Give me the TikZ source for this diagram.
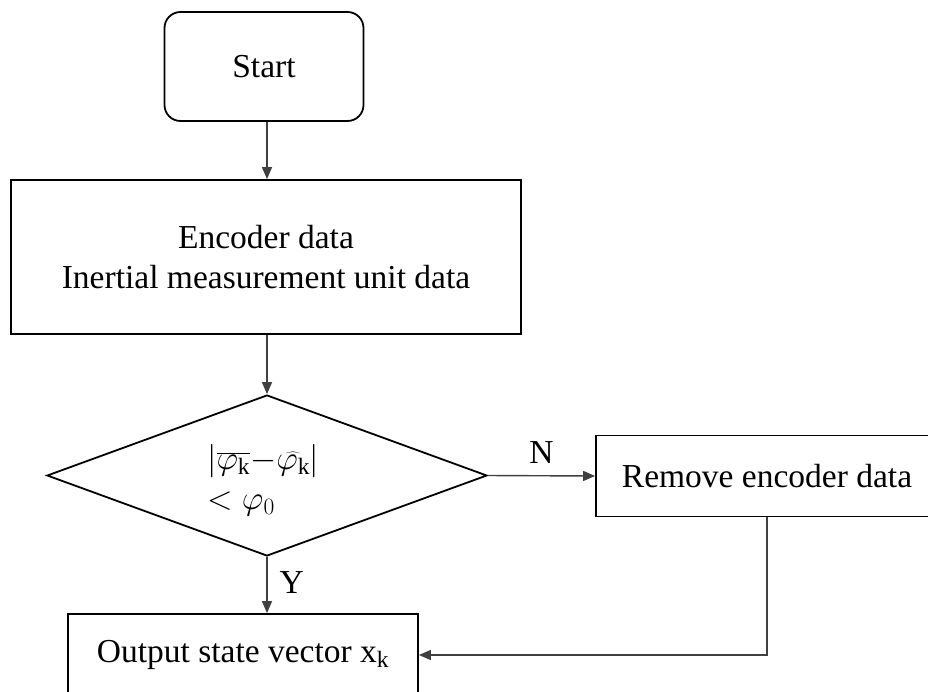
\documentclass[tikz,border=0pt]{standalone}
\usepackage{fix-cm}
\usepackage{fontspec}
\setmainfont{Liberation Serif}
\usetikzlibrary{shapes.geometric,arrows.meta}
\tikzset{
  boxline/.style={draw=black, line width=1.8pt},
  procbox/.style={boxline, rectangle, inner sep=0pt, align=center, font=\fontsize{33.5}{40}\selectfont},
  startbox/.style={procbox, rounded corners=16pt},
  decbox/.style={boxline, diamond, inner sep=0pt},
  conn/.style={draw=black!75, line width=1.4pt, -{Triangle[length=12pt,width=10pt]}},
  lbl/.style={font=\fontsize{33.5}{40}\selectfont, inner sep=0pt}
}
\begin{document}
\begin{tikzpicture}[x=1pt,y=-1pt]
\useasboundingbox (0,0) rectangle (928,691);
\clip (0,0) rectangle (928,691);
\node[startbox, minimum width=199pt, minimum height=109pt] (start) at (264,66.5) {Start};
\node[procbox, minimum width=510pt, minimum height=154pt] (enc) at (266,257) {Encoder data\\Inertial measurement unit data};
\node[decbox, minimum width=440pt, minimum height=161pt] (dec) at (267,475.5) {};
\node[lbl, align=left, anchor=west] (cond) at (207,480) {$|\overline{\varphi_{\mathrm{k}}}{-}\widehat{\varphi_{\mathrm{k}}}|$\\[0pt]$<\varphi_0$};
\node[procbox, minimum width=342pt, minimum height=81pt] (rem) at (767,476) {Remove encoder data};
\node[procbox, minimum width=350pt, minimum height=82pt] (out) at (243,655) {Output state vector x$_{\mathrm{k}}$};
\coordinate (corner) at (767,655);
\draw[conn] (start.south -| enc.north) ++(1,0) coordinate (s1) -- (s1 |- enc.north);
\draw[conn] (enc.south -| dec.north) ++(0,0) coordinate (e1) -- (dec.north);
\draw[conn] (dec.east) -- node[lbl, above=12pt] (nlab) {N} (rem.west);
\draw[conn] (dec.south) -- node[lbl, right=12pt, pos=0.45] (ylab) {Y} (dec.south |- out.north);
\draw[conn] (rem.south) -- (corner) -- (out.east);
\end{tikzpicture}
\end{document}
